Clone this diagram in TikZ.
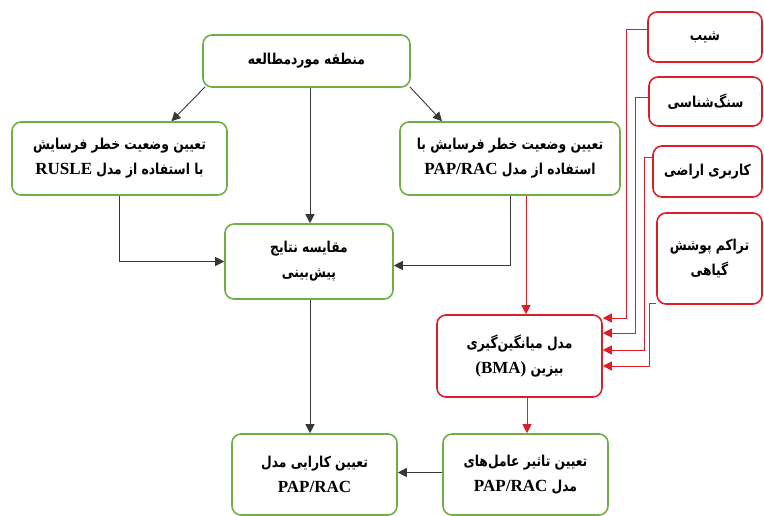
\documentclass[tikz,border=0pt]{standalone}
\usepackage{fontspec}
\usetikzlibrary{arrows.meta,calc}
\TeXXeTstate=1
\newfontfamily\fafont[Script=Arabic,FakeStretch=0.82]{DejaVu Sans}
\newfontfamily\latfont{Liberation Serif}
\newcommand{\rtl}[1]{{\fafont\bfseries\beginR #1\endR}}
\newcommand{\ltr}[1]{\beginL{\latfont\bfseries\fontsize{17}{20}\selectfont #1}\endL}
\definecolor{boxgreen}{RGB}{112,173,71}
\definecolor{boxred}{RGB}{220,30,40}
\definecolor{linegray}{RGB}{55,55,55}
\tikzset{
  gbox/.style={draw=boxgreen, line width=1.6pt, rounded corners=9pt, align=center, inner sep=2pt, font=\fontsize{15}{25}\selectfont},
  rbox/.style={gbox, draw=boxred},
  arr/.style={draw=linegray, line width=0.9pt, -{Triangle[length=9pt,width=9pt]}},
  rarr/.style={draw=boxred, line width=0.9pt, -{Triangle[length=9pt,width=9pt]}},
}
\begin{document}
\begin{tikzpicture}[x=1pt,y=-1pt]
\useasboundingbox (0,0) rectangle (764,516);
\node[gbox, minimum width=207pt, minimum height=52pt] (top) at (306.5,61) {\rtl{منطقه موردمطالعه}};
\node[gbox, minimum width=215pt, minimum height=73pt] (rusle) at (119.5,158.5) {\rtl{تعیین وضعیت خطر فرسایش}\\\rtl{با استفاده از مدل \ltr{RUSLE}}};
\node[gbox, minimum width=220pt, minimum height=73pt] (pap) at (510,158.5) {\rtl{تعیین وضعیت خطر فرسایش با}\\\rtl{استفاده از مدل \ltr{PAP/RAC}}};
\node[gbox, minimum width=168pt, minimum height=75pt] (comp) at (309,261.5) {\rtl{مقایسه نتایج}\\\rtl{پیش‌بینی}};
\node[gbox, minimum width=165pt, minimum height=81pt] (perf) at (314.5,474.5) {\rtl{تعیین کارایی مدل}\\\ltr{PAP/RAC}};
\node[gbox, minimum width=165pt, minimum height=81pt] (eff) at (525.5,474.5) {\rtl{تعیین تاثیر عامل‌های}\\\rtl{مدل \ltr{PAP/RAC}}};
\node[rbox, minimum width=165pt, minimum height=82pt] (bma) at (519.5,356) {\rtl{مدل میانگین‌گیری}\\\rtl{بیزین \ltr{(BMA)}}};
\node[rbox, minimum width=114pt, minimum height=50pt] (slope) at (705,37) {\rtl{شیب}};
\node[rbox, minimum width=113pt, minimum height=49pt] (litho) at (705.5,101.5) {\rtl{سنگ‌شناسی}};
\node[rbox, minimum width=109pt, minimum height=51pt] (land) at (707.5,171.5) {\rtl{کاربری اراضی}};
\node[rbox, minimum width=105pt, minimum height=91pt] (veg) at (709.5,258.5) {\rtl{تراکم پوشش}\\\rtl{گیاهی}};
% black connectors
\draw[arr] ([xshift=3pt,yshift=1pt]top.south west) -- ([xshift=52pt]rusle.north);
\draw[arr] ([xshift=-1pt,yshift=1pt]top.south east) -- ([xshift=-68pt]pap.north);
\draw[arr] ([xshift=3.5pt]top.south) -- ([xshift=1pt]comp.north);
\draw[arr] (rusle.south) |- (comp.west);
\draw[arr] (pap.south) |- ([yshift=-4pt]comp.east);
\draw[arr] ([xshift=1pt]comp.south) -- ([xshift=1pt]comp.south |- perf.north);
\draw[arr] ([yshift=2pt]eff.west) -- ([yshift=2pt]perf.east);
% red connectors
\draw[rarr] ([xshift=16pt]pap.south) -- ([xshift=16pt]pap.south |- bma.north);
\draw[rarr] ([yshift=8pt]slope.west) -- ++(-21,0) |- ([yshift=38pt]bma.east);
\draw[rarr] ([yshift=4.5pt]litho.west) -- ++(-13,0) |- ([yshift=23pt]bma.east);
\draw[rarr] ([yshift=14.5pt]land.west) -- ++(-8,0) |- ([yshift=6pt]bma.east);
\draw[rarr] ([yshift=1pt]veg.south west) -- ++(-7,0) |- ([yshift=-10pt]bma.east);
\draw[rarr] ([xshift=7.5pt]bma.south) -- ([xshift=7.5pt]bma.south |- eff.north);
\end{tikzpicture}
\end{document}
